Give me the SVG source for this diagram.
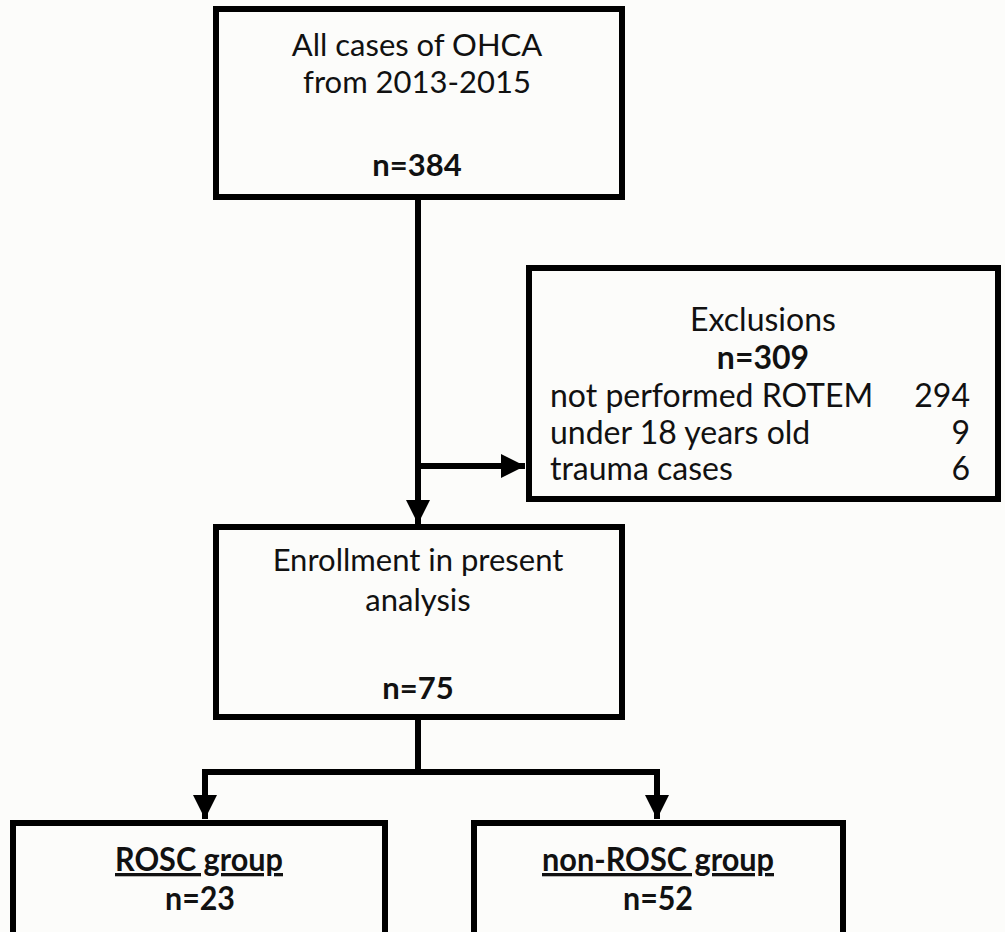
<svg xmlns="http://www.w3.org/2000/svg" width="1005" height="932" viewBox="0 0 1005 932">
<style>
.box{fill:#fcfcfa;stroke:#000;stroke-width:6}
.t{font-family:Lato,"Open Sans","Liberation Sans",sans-serif;font-size:31px;fill:#111}
.x{font-size:32px}
.g{font-size:33px}
.c{text-anchor:middle}
.b{font-weight:bold}
.ln{fill:none;stroke:#000;stroke-width:6}
</style>
<defs>
<marker id="ah" viewBox="0 0 10 10" refX="10" refY="5" markerWidth="4" markerHeight="4" markerUnits="strokeWidth" orient="auto">
<path d="M0,0 L10,5 L0,10 z" fill="#000"/>
</marker>
</defs>
<rect width="1005" height="932" fill="#fcfcfa"/>
<g id="connectors">
<line class="ln" x1="418" y1="197" x2="418" y2="524" marker-end="url(#ah)"/>
<line class="ln" x1="418" y1="466" x2="525" y2="466" marker-end="url(#ah)"/>
<polyline class="ln" points="418,717 418,772"/>
<polyline class="ln" points="205,772 657,772"/>
<line class="ln" x1="205" y1="769" x2="205" y2="819" marker-end="url(#ah)"/>
<line class="ln" x1="657" y1="769" x2="657" y2="819" marker-end="url(#ah)"/>
</g>
<g id="all-cases">
<rect class="box" x="216" y="9" width="406" height="188"/>
<text class="t c" x="417" y="56">All cases of OHCA</text>
<text class="t c" x="417" y="93">from 2013-2015</text>
<text class="t c b" x="417" y="176">n=384</text>
</g>
<g id="exclusions">
<rect class="box" x="529" y="268" width="469" height="231"/>
<text class="t x c" x="763" y="331">Exclusions</text>
<text class="t x c b" x="763" y="369">n=309</text>
<text class="t x" x="550" y="407">not performed ROTEM</text>
<text class="t x" x="970" y="407" text-anchor="end">294</text>
<text class="t x" x="550" y="444">under 18 years old</text>
<text class="t x" x="970" y="444" text-anchor="end">9</text>
<text class="t x" x="550" y="480">trauma cases</text>
<text class="t x" x="970" y="480" text-anchor="end">6</text>
</g>
<g id="enrollment">
<rect class="box" x="216" y="527" width="406" height="190"/>
<text class="t c" x="418" y="571">Enrollment in present</text>
<text class="t c" x="418" y="611">analysis</text>
<text class="t c b" x="418" y="699">n=75</text>
</g>
<g id="rosc">
<rect class="box" x="13" y="823" width="372" height="130"/>
<text class="t g c b" x="199" y="871" text-decoration="underline" textLength="168" lengthAdjust="spacingAndGlyphs">ROSC group</text>
<text class="t g c b" x="200" y="910" textLength="70" lengthAdjust="spacingAndGlyphs">n=23</text>
</g>
<g id="non-rosc">
<rect class="box" x="474" y="823" width="369" height="130"/>
<text class="t g c b" x="658" y="871" text-decoration="underline" textLength="232" lengthAdjust="spacingAndGlyphs">non-ROSC group</text>
<text class="t g c b" x="658" y="910" textLength="70" lengthAdjust="spacingAndGlyphs">n=52</text>
</g>
</svg>
